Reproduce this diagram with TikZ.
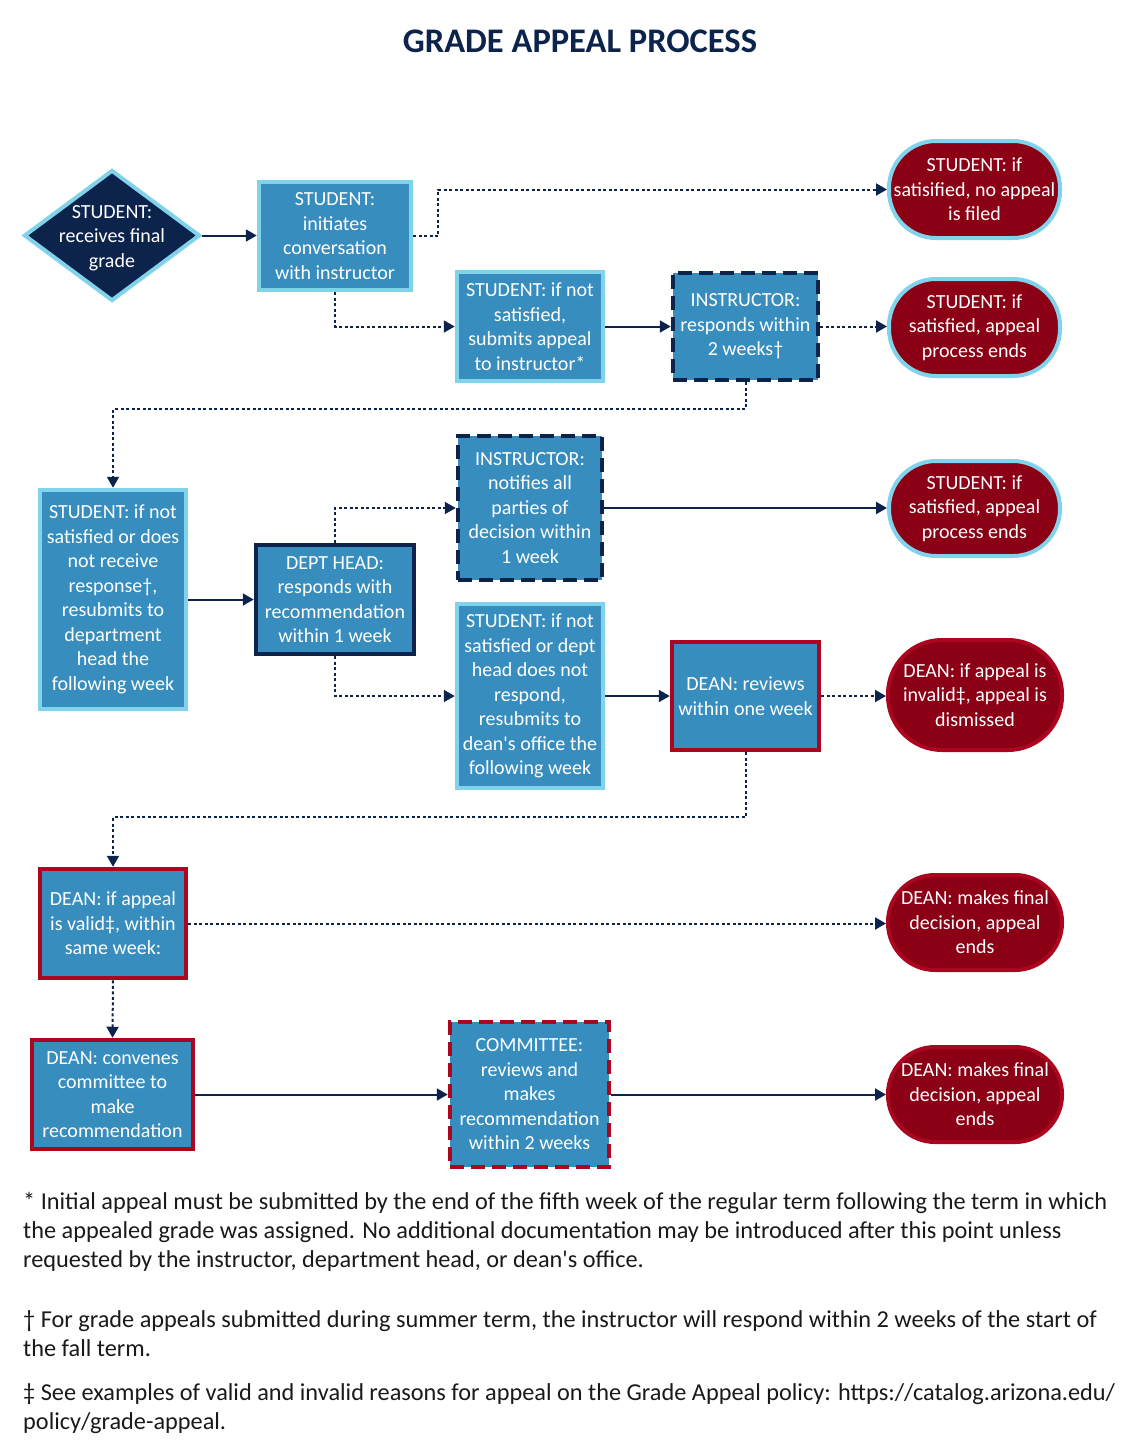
\documentclass[tikz,border=0pt]{standalone}
\usepackage{fontspec}
\setmainfont{Carlito}
\usetikzlibrary{shapes.geometric,arrows.meta}
\definecolor{navy}{HTML}{0C234B}
\definecolor{sky}{HTML}{81D3EB}
\definecolor{boxblue}{HTML}{378DBD}
\definecolor{redb}{HTML}{AB0520}
\definecolor{ovalred}{HTML}{8B0015}
\definecolor{fntext}{HTML}{1A1A1A}
\begin{document}
\begin{tikzpicture}[x=1pt,y=-1pt,
  basetext/.style={font=\fontsize{20}{24.5}\selectfont, text=white, align=center, inner sep=0pt},
  sbox/.style={basetext, rectangle, fill=boxblue, draw=sky, line width=4.5pt},
  nbox/.style={basetext, rectangle, fill=boxblue, draw=navy, line width=4.5pt},
  ndash/.style={nbox, dash pattern=on 14pt off 7pt},
  rbox/.style={basetext, rectangle, fill=boxblue, draw=redb, line width=4.5pt},
  rdash/.style={rbox, dash pattern=on 14pt off 7pt},
  oval/.style={basetext, rectangle, fill=ovalred, draw=sky, line width=4pt, rounded corners=47pt},
  roval/.style={oval, draw=redb},
  conn/.style={draw=navy, line width=2pt, -{Triangle[length=11pt,width=12pt]}},
  dotc/.style={conn, dash pattern=on 3pt off 2.5pt},
  fn/.style={font=\fontsize{24.3}{29}\selectfont, text=fntext, anchor=base west, inner sep=0pt}
]
\useasboundingbox[fill=white] (0,0) rectangle (1140,1456);

\node[font=\fontsize{34.5}{40}\selectfont\bfseries, text=navy] (title) at (580,41) {GRADE APPEAL PROCESS};

% nodes
\node[diamond, fill=navy, draw=sky, line width=4pt, inner sep=0pt, minimum width=176pt, minimum height=131pt] (d1) at (112,235.5) {};
\node[basetext] (d1t) at (112,238) {STUDENT:\\receives final\\grade};
\node[sbox, minimum width=152pt, minimum height=108pt] (s1) at (335,236) {STUDENT:\\initiates\\conversation\\with instructor};
\node[oval, minimum width=171pt, minimum height=97pt] (o1) at (974.5,189.5) {STUDENT: if\\satisified, no appeal\\is filed};
\node[sbox, minimum width=146pt, minimum height=109pt] (s2) at (530,326.5) {STUDENT: if not\\satisfied,\\submits appeal\\to instructor*};
\node[ndash, minimum width=145pt, minimum height=107pt] (i1) at (745.5,326.5) {INSTRUCTOR:\\responds within\\2 weeks†};
\node[oval, minimum width=171pt, minimum height=97pt] (o2) at (974.5,327.5) {STUDENT: if\\satisfied, appeal\\process ends};

\node[sbox, minimum width=146pt, minimum height=219pt] (s3) at (113,599.5) {STUDENT: if not\\satisfied or does\\not receive\\response†,\\resubmits to\\department\\head the\\following week};
\node[nbox, minimum width=158pt, minimum height=109pt] (dh) at (335,599.5) {DEPT HEAD:\\responds with\\recommendation\\within 1 week};
\node[ndash, minimum width=144pt, minimum height=144pt] (i2) at (530,508) {INSTRUCTOR:\\notifies all\\parties of\\decision within\\1 week};
\node[oval, minimum width=171pt, minimum height=95pt] (o3) at (974.5,508.5) {STUDENT: if\\satisfied, appeal\\process ends};
\node[sbox, minimum width=146pt, minimum height=184pt] (s4) at (530,696) {STUDENT: if not\\satisfied or dept\\head does not\\respond,\\resubmits to\\dean\textquotesingle s office the\\following week};
\node[rbox, minimum width=147pt, minimum height=108pt] (dn1) at (745.5,696) {DEAN: reviews\\within one week};
\node[roval, minimum width=174pt, minimum height=110pt, rounded corners=54pt] (o4) at (975,695) {DEAN: if appeal is\\invalid‡, appeal is\\dismissed};

\node[rbox, minimum width=146pt, minimum height=109pt] (dn2) at (113,923.5) {DEAN: if appeal\\is valid‡, within\\same week:};
\node[roval, minimum width=174pt, minimum height=95pt] (o5) at (975,922.5) {DEAN: makes final\\decision, appeal\\ends};
\node[rbox, minimum width=161pt, minimum height=109pt] (dn3) at (112.5,1094.5) {DEAN: convenes\\committee to\\make\\recommendation};
\node[rdash, minimum width=159pt, minimum height=145pt] (cm) at (529.5,1094.5) {COMMITTEE:\\reviews and\\makes\\recommendation\\within 2 weeks};
\node[roval, minimum width=174pt, minimum height=95pt] (o6) at (975,1094.5) {DEAN: makes final\\decision, appeal\\ends};

% connectors
\draw[conn] (d1.east) -- (d1.east -| s1.west);
\draw[dotc] (s1.east) -- ++(25,0) |- (o1.west);
\draw[dotc] (s1.south) |- (s2.west);
\draw[conn] (s2.east) -- (s2.east -| i1.west);
\draw[dotc] (i1.east) -- (i1.east -| o2.west);
\draw[dotc] (i1.south) -- ++(0,27) -| (s3.north);
\draw[conn] (s3.east) -- (s3.east -| dh.west);
\draw[dotc] (dh.north) |- (i2.west);
\draw[conn] (i2.east) -- (i2.east -| o3.west);
\draw[dotc] (dh.south) |- (s4.west);
\draw[conn] (s4.east) -- (s4.east -| dn1.west);
\draw[dotc] (dn1.east) -- (dn1.east -| o4.west);
\draw[dotc] (dn1.south) -- ++(0,65) -| (dn2.north);
\draw[dotc] (dn2.east) -- (dn2.east -| o5.west);
\draw[dotc] (dn2.south) -- (dn3.north);
\draw[conn] (dn3.east) -- (dn3.east -| cm.west);
\draw[conn] (cm.east) -- (cm.east -| o6.west);

% footnotes
\node[fn] (f1a) at (23,1209) {* Initial appeal must be submitted by the end of the fifth week of the regular term following the term in which};
\node[fn] (f1b) at (23,1238) {the appealed grade was assigned. No additional documentation may be introduced after this point unless};
\node[fn] (f1c) at (23,1267) {requested by the instructor, department head, or dean\textquotesingle s office.};
\node[fn] (f2a) at (23,1327) {† For grade appeals submitted during summer term, the instructor will respond within 2 weeks of the start of};
\node[fn] (f2b) at (23,1356) {the fall term.};
\node[fn] (f3a) at (23,1400) {‡ See examples of valid and invalid reasons for appeal on the Grade Appeal policy: https://catalog.arizona.edu/};
\node[fn] (f3b) at (23,1429) {policy/grade-appeal.};
\end{tikzpicture}
\end{document}
